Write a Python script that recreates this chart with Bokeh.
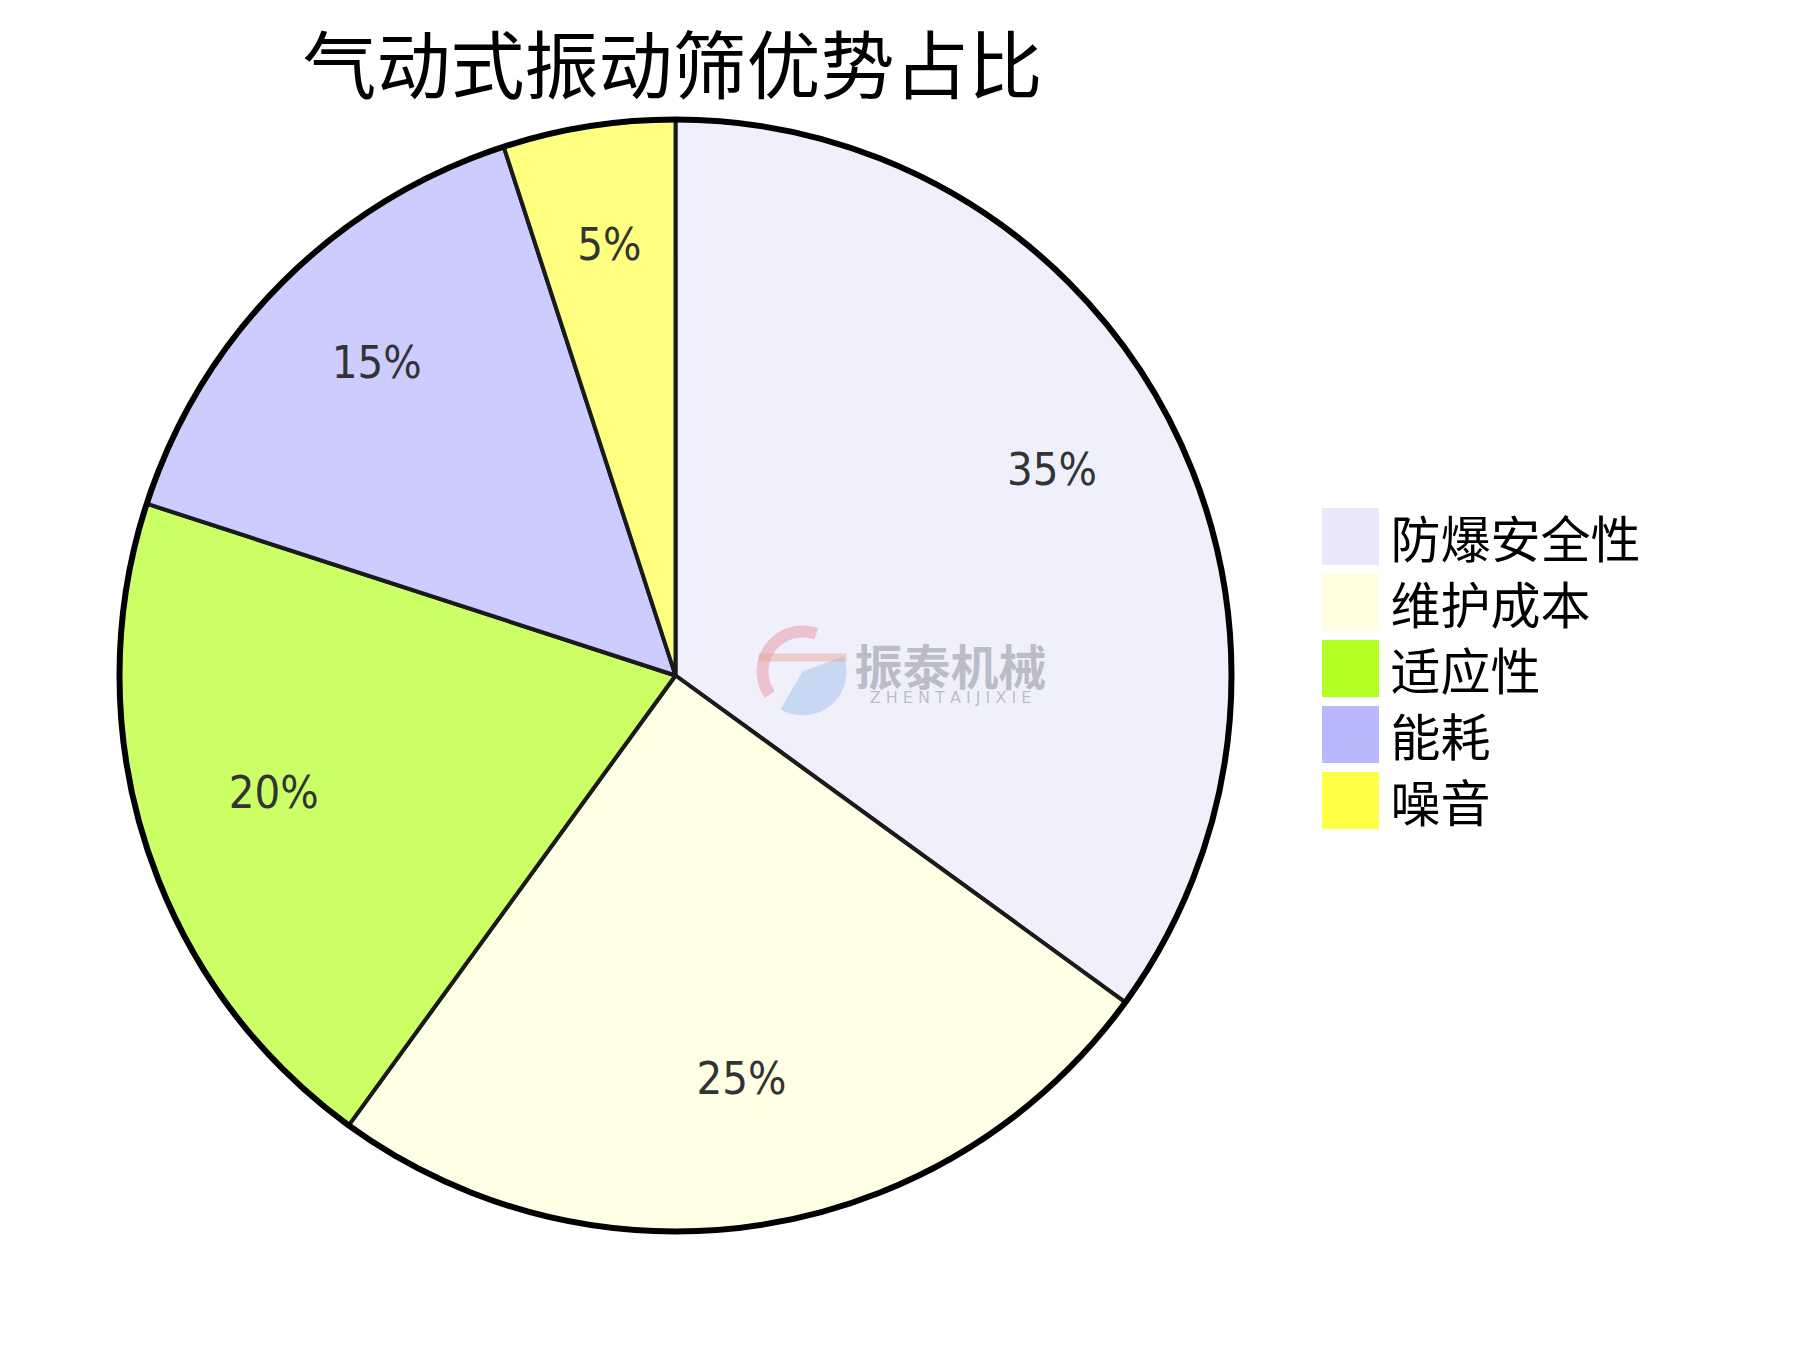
import math
from bokeh.plotting import figure
from bokeh.models import Range1d, ColumnDataSource
from bokeh.core.properties import value
from bokeh.embed import file_html
from bokeh.resources import INLINE

# ---- data ----
categories = ["防爆安全性", "维护成本", "适应性", "能耗", "噪音"]
shares = [35, 25, 20, 15, 5]
slice_colors = ["#F0F0FD", "#FFFFE6", "#CCFF66", "#CCCCFF", "#FFFF80"]
legend_colors = ["#E8E8FA", "#FFFFE0", "#B2FF22", "#B8B8FF", "#FFFF44"]
title_text = "气动式振动筛优势占比"

W, H = 1778, 1334
p = figure(width=W, height=H, output_backend="svg", toolbar_location=None,
           x_range=Range1d(0, W), y_range=Range1d(0, H), min_border=0)
p.axis.visible = False
p.grid.visible = False
p.outline_line_color = None
p.background_fill_color = "white"
p.border_fill_color = "white"

cx, cy, R = 675, 659, 556

# wedges, clockwise from 12 o'clock
total = float(sum(shares))
starts, ends, mids = [], [], []
a = math.pi / 2
for s in shares:
    span = 2 * math.pi * s / total
    starts.append(a)
    ends.append(a - span)
    mids.append(a - span / 2)
    a -= span

src = ColumnDataSource(dict(start=starts, end=ends, color=slice_colors))
p.wedge(x=cx, y=cy, radius=R, start_angle="start", end_angle="end",
        direction="clock", fill_color="color", line_color="#1a1a1a",
        line_width=4, source=src)
p.circle(x=[cx], y=[cy], radius=R, fill_color=None, line_color="black",
         line_width=6)

# percentage labels
lr = 0.76 * R
lab = ColumnDataSource(dict(
    x=[cx + lr * math.cos(m) for m in mids],
    y=[cy + lr * math.sin(m) + 14 for m in mids],
    t=["%d%%" % s for s in shares]))
p.text(x="x", y="y", text="t", source=lab, text_align="center",
       text_baseline="middle", text_font=value("DejaVu Sans Condensed"),
       text_font_size="45px", text_color="#333333")

# watermark logo (approximation)
wx, wy = 802, 663
p.annular_wedge(x=wx, y=wy, inner_radius=34, outer_radius=46,
                start_angle=math.radians(70), end_angle=math.radians(215),
                fill_color="#E88A98", fill_alpha=0.45, line_color=None)
p.wedge(x=wx, y=wy, radius=44, start_angle=math.radians(-120),
        end_angle=math.radians(20), fill_color="#8FB4E0", fill_alpha=0.4,
        line_color=None)
p.quad(left=[wx - 44], right=[wx + 44], top=[wy + 18], bottom=[wy + 10],
       fill_color="#E8A090", fill_alpha=0.45, line_color=None)
p.text(x=[950], y=[671], text=["振泰机械"], text_align="center",
       text_baseline="middle", text_font=value("Noto Sans CJK SC"),
       text_font_size="48px", text_font_style="bold", text_color="#9A9AA4",
       text_alpha=0.6)
p.text(x=[950], y=[637], text=["Z H E N T A I J I X I E"], text_align="center",
       text_baseline="middle", text_font=value("DejaVu Sans"),
       text_font_size="16px", text_color="#9A9AA4", text_alpha=0.6)

# title
p.text(x=[672], y=[1274], text=[title_text], text_align="center",
       text_baseline="middle", text_font=value("Noto Sans CJK SC"),
       text_font_size="74px", text_color="black")

# legend (manual)
lx, ly0, step = 1350, 798, 66
rows = [ly0 - i * step for i in range(len(categories))]
p.rect(x=[lx] * len(categories), y=rows, width=57, height=57,
       fill_color=legend_colors, line_color=None)
p.text(x=[lx + 40] * len(categories), y=[r + 1 for r in rows], text=categories,
       text_align="left", text_baseline="middle",
       text_font=value("Noto Sans CJK SC"), text_font_size="50px",
       text_color="black")

open("out.html", "w").write(file_html(p, INLINE))
